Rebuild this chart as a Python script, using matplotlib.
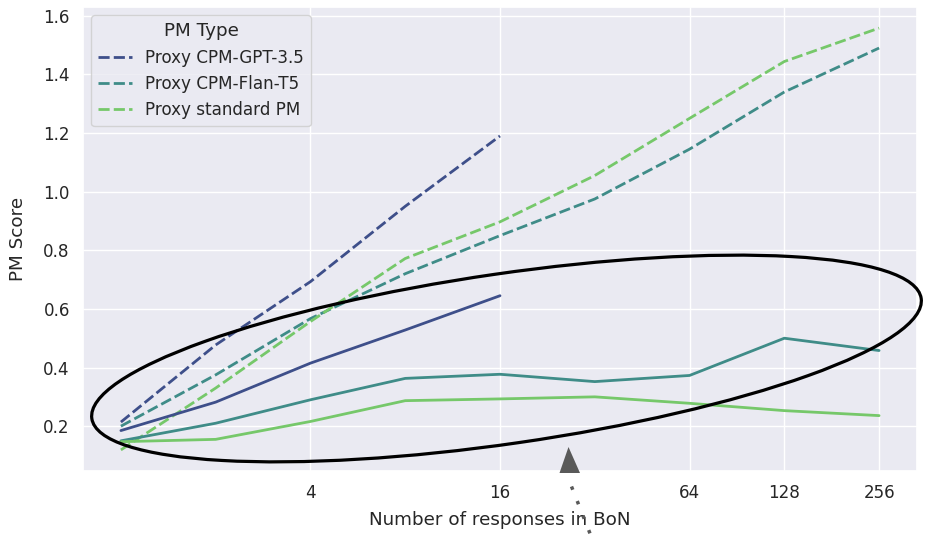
import matplotlib
matplotlib.use('Agg')
import matplotlib.pyplot as plt
import matplotlib.transforms as mtransforms
from matplotlib.patches import Ellipse, Polygon
from matplotlib.lines import Line2D
import seaborn as sns

sns.set_theme(style='darkgrid', context='notebook', font_scale=1.1)
plt.rcParams['font.family'] = ['DejaVu Sans']

n_responses = [1, 2, 4, 8, 16, 32, 64, 128, 256]
n_gpt = [1, 2, 4, 8, 16]
pm_types = ['Proxy CPM-GPT-3.5', 'Proxy CPM-Flan-T5', 'Proxy standard PM']

# proxy (dashed) and gold (solid) scores
proxy_gpt = [0.214, 0.477, 0.693, 0.950, 1.190]
proxy_flan = [0.200, 0.375, 0.567, 0.720, 0.850, 0.975, 1.145, 1.340, 1.490]
proxy_std = [0.119, 0.330, 0.557, 0.772, 0.897, 1.055, 1.250, 1.444, 1.558]
gold_gpt = [0.185, 0.282, 0.415, 0.528, 0.645]
gold_flan = [0.150, 0.210, 0.290, 0.363, 0.377, 0.352, 0.373, 0.500, 0.458]
gold_std = [0.147, 0.155, 0.216, 0.287, 0.293, 0.300, 0.278, 0.253, 0.236]

xticks = [4, 16, 64, 128, 256]
yticks = [0.2, 0.4, 0.6, 0.8, 1.0, 1.2, 1.4, 1.6]

colors = ['#3e4f8a', '#3f8c88', '#76c86a']
W, H = 925, 536

fig = plt.figure(figsize=(W / 100, H / 100), dpi=100)
ax = fig.add_axes([83 / W, (H - 471) / H, (917 - 83) / W, (471 - 7) / H])

lw = 2.0
proxies = [(n_gpt, proxy_gpt), (n_responses, proxy_flan), (n_responses, proxy_std)]
golds = [(n_gpt, gold_gpt), (n_responses, gold_flan), (n_responses, gold_std)]
for (xs, ys), name, c in zip(proxies, pm_types, colors):
    ax.plot(xs, ys, color=c, lw=lw, dashes=(4, 1.5), label=name)
for (xs, ys), c in zip(golds, colors):
    ax.plot(xs, ys, color=c, lw=lw)

ax.set_xscale('log', base=2)
ax.set_xticks(xticks)
ax.set_xticklabels([str(t) for t in xticks])
ax.xaxis.set_minor_locator(matplotlib.ticker.NullLocator())
ax.set_yticks(yticks)
ax.set_yticklabels(['%.1f' % t for t in yticks])
ax.set_xlabel('Number of responses in BoN', labelpad=6.5)
ax.set_ylabel('PM Score')
ax.yaxis.set_label_coords(-56 / 834, 0.5)
ax.legend(title='PM Type', loc='upper left')

# annotations in image pixels (y measured from the top)
to_px = mtransforms.Affine2D().scale(1, -1).translate(0, H)
ell = Ellipse((506.5, 358.5), 838, 170, angle=-8.24, fill=False,
              edgecolor='black', lw=2.3, transform=to_px, clip_on=False)
fig.add_artist(ell)

head = Polygon([(559.5, 473), (580, 473), (568.5, 447)], closed=True,
               facecolor='#595959', edgecolor='none', transform=to_px)
fig.add_artist(head)
tail = Line2D([571.5, 591], [486.5, 536], color='#595959', lw=2.5,
              dashes=(1, 3.5), transform=to_px)
fig.add_artist(tail)

fig.savefig('out.png', dpi=100)
